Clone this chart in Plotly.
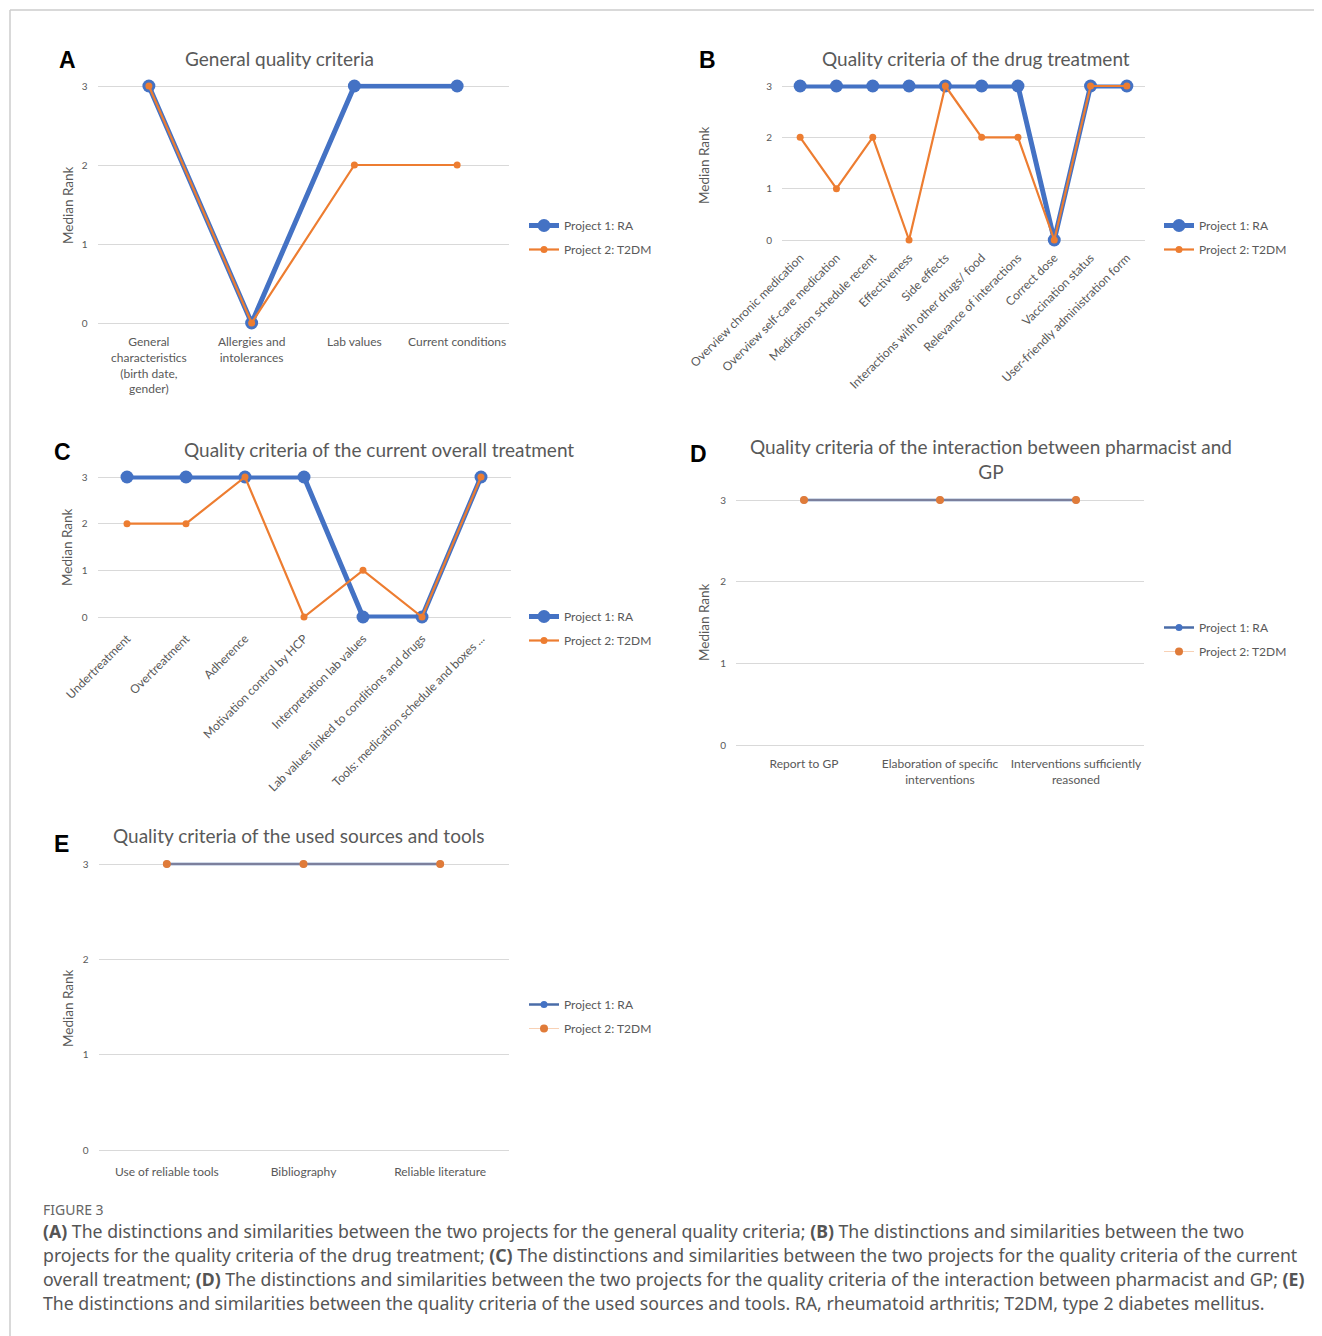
import plotly.graph_objects as go

W, H = 1322, 1336
OFF = 8  # page body margin in the browser

# ---------------- data ----------------
series_names = ["Project 1: RA", "Project 2: T2DM"]
y_ticks = [0, 1, 2, 3]

a_cats = ["General<br>characteristics<br>(birth date,<br>gender)", "Allergies and<br>intolerances",
          "Lab values", "Current conditions"]
a_ra = [3, 0, 3, 3]
a_t2 = [3, 0, 2, 2]

b_cats = ["Overview chronic medication", "Overview self-care medication", "Medication schedule recent",
          "Effectiveness", "Side effects", "Interactions with other drugs/ food",
          "Relevance of interactions", "Correct dose", "Vaccination status",
          "User-friendly administration form"]
b_ra = [3, 3, 3, 3, 3, 3, 3, 0, 3, 3]
b_t2 = [2, 1, 2, 0, 3, 2, 2, 0, 3, 3]

c_cats = ["Undertreatment", "Overtreatment", "Adherence", "Motivation control by HCP",
          "Interpretation lab values", "Lab values linked to conditions and drugs",
          "Tools: medication schedule and boxes ..."]
c_ra = [3, 3, 3, 3, 0, 0, 3]
c_t2 = [2, 2, 3, 0, 1, 0, 3]

d_cats = ["Report to GP", "Elaboration of specific<br>interventions", "Interventions sufficiently<br>reasoned"]
d_ra = [3, 3, 3]
d_t2 = [3, 3, 3]

e_cats = ["Use of reliable tools", "Bibliography", "Reliable literature"]
e_ra = [3, 3, 3]
e_t2 = [3, 3, 3]

titles = ["General quality criteria", "Quality criteria of the drug treatment",
          "Quality criteria of the current overall treatment",
          "Quality criteria of the interaction between pharmacist and<br>GP",
          "Quality criteria of the used sources and tools"]
letters = ["A", "B", "C", "D", "E"]

caption_head = "FIGURE 3"
caption_lines = [
    "<b>(A)</b> The distinctions and similarities between the two projects for the general quality criteria; <b>(B)</b> The distinctions and similarities between the two",
    "projects for the quality criteria of the drug treatment; <b>(C)</b> The distinctions and similarities between the two projects for the quality criteria of the current",
    "overall treatment; <b>(D)</b> The distinctions and similarities between the two projects for the quality criteria of the interaction between pharmacist and GP; <b>(E)</b>",
    "The distinctions and similarities between the quality criteria of the used sources and tools. RA, rheumatoid arthritis; T2DM, type 2 diabetes mellitus.",
]

BLUE = "#4472C4"
ORANGE = "#ED7D31"
GRID = "#D9D9D9"
TXT = "#595959"
FONT = "Lato"

def px(x):
    return (x - OFF) / W

def py(y):
    return 1 - (y - OFF) / H

# layout geometry (pixels, as seen on screen) for each panel
panels = [
    dict(cats=a_cats, ra=a_ra, t2=a_t2, xl=97.5, xr=508.5, y3=86, y0=323, style="thick", angle=0,
         standoff=8, tfs=12, title=(279, 58), letter=(67, 60), ytitle=(68, 205), leg=(524, 211)),
    dict(cats=b_cats, ra=b_ra, t2=b_t2, xl=782, xr=1145, y3=86, y0=240, style="thick", angle=-45,
         standoff=6, tfs=12, title=(976, 58), letter=(708, 60), ytitle=(704, 165), leg=(1159, 211)),
    dict(cats=c_cats, ra=c_ra, t2=c_t2, xl=97.5, xr=510.5, y3=477, y0=617, style="thick", angle=-45,
         standoff=10, tfs=12, title=(379, 449), letter=(63, 452), ytitle=(67, 547), leg=(524, 602)),
    dict(cats=d_cats, ra=d_ra, t2=d_t2, xl=736, xr=1144, y3=500, y0=745, style="thin", angle=0,
         standoff=8, tfs=12, title=(991, 459), letter=(698, 454), ytitle=(704, 622), leg=(1159, 613)),
    dict(cats=e_cats, ra=e_ra, t2=e_t2, xl=98.5, xr=508.5, y3=864, y0=1150, style="thin", angle=0,
         standoff=10, tfs=12, title=(298, 836), letter=(62, 844), ytitle=(68, 1008), leg=(524, 990)),
]

fig = go.Figure()
annotations = []
PAD = 0.03

for i, p in enumerate(panels):
    n = i + 1
    xa = "x" if n == 1 else f"x{n}"
    ya = "y" if n == 1 else f"y{n}"
    legname = "legend" if n == 1 else f"legend{n}"
    u = (p["y0"] - p["y3"]) / 3.0
    top = p["y3"] - PAD * u
    bot = p["y0"] + PAD * u

    if p["style"] == "thick":
        ra_line, ra_mk = dict(color=BLUE, width=5), dict(color=BLUE, size=13)
        t2_line, t2_mk = dict(color=ORANGE, width=2.2), dict(color=ORANGE, size=7)
    else:
        ra_line, ra_mk = dict(color="#4A6CA8", width=2.5), dict(color=BLUE, size=7)
        t2_line, t2_mk = dict(color="#F4B183", width=0.6), dict(color="#E07B39", size=8)

    fig.add_trace(go.Scatter(x=p["cats"], y=p["ra"], mode="lines+markers", name=series_names[0],
                             line=ra_line, marker=ra_mk, xaxis=xa, yaxis=ya, cliponaxis=False,
                             legend=legname, legendgroup=f"g{n}a"))
    fig.add_trace(go.Scatter(x=p["cats"], y=p["t2"], mode="lines+markers", name=series_names[1],
                             line=t2_line, marker=t2_mk, xaxis=xa, yaxis=ya, cliponaxis=False,
                             legend=legname, legendgroup=f"g{n}b"))

    xkey = "xaxis" if n == 1 else f"xaxis{n}"
    ykey = "yaxis" if n == 1 else f"yaxis{n}"
    fig.update_layout(**{
        xkey: dict(domain=[px(p["xl"]), px(p["xr"])], anchor=ya, type="category",
                   range=[-0.5, len(p["cats"]) - 0.5], showgrid=False, zeroline=False,
                   showline=False, ticks="", tickangle=p["angle"], ticklabelstandoff=p["standoff"],
                   automargin=False,
                   tickfont=dict(family=FONT, size=p["tfs"], color=TXT), fixedrange=True),
        ykey: dict(domain=[py(bot), py(top)], anchor=xa, range=[-PAD, 3 + PAD],
                   tickvals=y_ticks, showgrid=True, gridcolor=GRID, gridwidth=1, zeroline=False,
                   showline=False, ticks="", ticklabelstandoff=9, automargin=False,
                   tickfont=dict(family=FONT, size=10, color=TXT), fixedrange=True),
        legname: dict(x=px(p["leg"][0]), y=py(p["leg"][1]), xanchor="left", yanchor="top",
                      bgcolor="rgba(0,0,0,0)", font=dict(family=FONT, size=12, color=TXT),
                      itemwidth=30, traceorder="grouped", tracegroupgap=5),
    })

    annotations.append(dict(text=titles[i], x=px(p["title"][0]), y=py(p["title"][1]), xref="paper",
                            yref="paper", xanchor="center", yanchor="middle", showarrow=False,
                            font=dict(family=FONT, size=19, color=TXT)))
    annotations.append(dict(text=f"<b>{letters[i]}</b>", x=px(p["letter"][0]), y=py(p["letter"][1]),
                            xref="paper", yref="paper", xanchor="center", yanchor="middle",
                            showarrow=False, font=dict(family="Liberation Sans", size=23, color="#000")))
    annotations.append(dict(text="Median Rank", x=px(p["ytitle"][0]), y=py(p["ytitle"][1]),
                            xref="paper", yref="paper", xanchor="center", yanchor="middle",
                            textangle=-90, showarrow=False,
                            font=dict(family=FONT, size=13.5, color=TXT)))

# caption
annotations.append(dict(text=caption_head, x=px(41), y=py(1209), xref="paper", yref="paper",
                        xanchor="left", yanchor="middle", showarrow=False,
                        font=dict(family="Noto Sans", size=14, color="#666666")))
for k, line in enumerate(caption_lines):
    annotations.append(dict(text=line, x=px(41), y=py(1231 + 24 * k), xref="paper", yref="paper",
                            xanchor="left", yanchor="middle", showarrow=False,
                            font=dict(family="Noto Sans", size=17.7, color="#555555")))

shapes = [
    dict(type="line", xref="paper", yref="paper", x0=px(10), x1=px(1330), y0=py(10), y1=py(10),
         line=dict(color="#CCCCCC", width=1.5)),
    dict(type="line", xref="paper", yref="paper", x0=px(10), x1=px(10), y0=py(10), y1=py(1344),
         line=dict(color="#CCCCCC", width=1.5)),
]

fig.update_layout(width=W, height=H,
                  margin=dict(l=0, r=0, t=0, b=0, pad=0, autoexpand=False),
                  paper_bgcolor="white", plot_bgcolor="white",
                  annotations=annotations, shapes=shapes,
                  font=dict(family=FONT, color=TXT))

fig.write_html("out.html")
